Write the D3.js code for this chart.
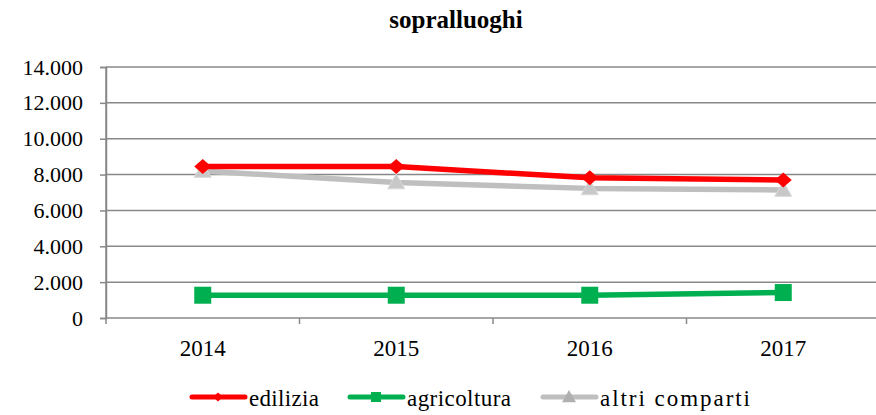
<!DOCTYPE html>
<html>
<head>
<meta charset="utf-8">
<script src="https://cdn.jsdelivr.net/npm/d3@7"></script>
<style>
  body { margin: 0; background: #fff; }
</style>
</head>
<body>
<div id="chart"></div>
<script>
// chart data
const years = ["2014", "2015", "2016", "2017"];
const edilizia = [8450, 8450, 7820, 7700];
const agricoltura = [1270, 1270, 1270, 1420];
const altriComparti = [8200, 7560, 7230, 7140];
const yTicks = [0, 2000, 4000, 6000, 8000, 10000, 12000, 14000];

const series = [
    { name: "edilizia", values: edilizia, color: "#ff0000", marker: "diamond" },
    { name: "agricoltura", values: agricoltura, color: "#00b050", marker: "square" },
    { name: "altri comparti", values: altriComparti, color: "#bfbfbf", marker: "triangle" }
];

const W = 876, H = 415;
const margin = { top: 67, right: -4, bottom: 97, left: 106 };
const width = W - margin.left - margin.right;
const height = H - margin.top - margin.bottom;
const FONT = "Liberation Serif";
const GRID = "#888888";

const svg = d3.select("#chart").append("svg")
    .attr("width", W)
    .attr("height", H)
    .attr("font-family", FONT);

svg.append("text")
    .attr("x", 456)
    .attr("y", 28)
    .attr("text-anchor", "middle")
    .attr("font-weight", "bold")
    .attr("font-size", 25)
    .attr("font-family", FONT)
    .text("sopralluoghi");

const g = svg.append("g")
    .attr("transform", `translate(${margin.left},${margin.top})`);

const x = d3.scaleBand().domain(years).range([0, width]);
const y = d3.scaleLinear().domain([0, 14000]).range([height, 0]);

// gridlines
g.selectAll(".grid")
    .data(yTicks)
    .enter()
    .append("line")
    .attr("x1", 0)
    .attr("x2", width)
    .attr("y1", d => y(d))
    .attr("y2", d => y(d))
    .attr("stroke", GRID)
    .attr("stroke-width", 1.5);

const fmt = d => d3.format(",")(d).replace(/,/g, ".");

const yAxis = g.append("g")
    .call(d3.axisLeft(y).tickValues(yTicks).tickFormat(fmt).tickSize(6).tickPadding(17))
    .attr("font-family", FONT)
    .attr("font-size", 22);
yAxis.select(".domain").attr("stroke", GRID).attr("stroke-width", 1.5);
yAxis.selectAll(".tick line").attr("stroke", GRID).attr("stroke-width", 1.5);
yAxis.selectAll("text").attr("fill", "#000");

const xTickPos = d3.range(years.length + 1).map(i => i * x.bandwidth());
const xAxis = g.append("g").attr("transform", `translate(0,${height})`);
xAxis.selectAll("line.tk")
    .data(xTickPos)
    .enter()
    .append("line")
    .attr("x1", d => d).attr("x2", d => d)
    .attr("y1", 0).attr("y2", 6)
    .attr("stroke", GRID).attr("stroke-width", 1.5);
xAxis.selectAll("text")
    .data(years)
    .enter()
    .append("text")
    .attr("x", d => x(d) + x.bandwidth() / 2)
    .attr("y", 38)
    .attr("text-anchor", "middle")
    .attr("font-size", 23)
    .attr("font-family", FONT)
    .text(d => d);

// y axis line on top of gridline
g.append("line")
    .attr("x1", 0).attr("x2", 0)
    .attr("y1", 0).attr("y2", height)
    .attr("stroke", GRID).attr("stroke-width", 1.5);

function markerPath(type, s) {
    if (type === "diamond") return `M0,${-s * 0.88}L${s},0L0,${s * 0.88}L${-s},0Z`;
    if (type === "square") return `M${-s},${-s}H${s}V${s}H${-s}Z`;
    return `M0,${-s}L${s},${s * 0.75}H${-s}Z`;
}
const markerSize = { diamond: 8.5, square: 8.5, triangle: 8.5 };

const line = d3.line()
    .x((d, i) => x(years[i]) + x.bandwidth() / 2)
    .y(d => y(d));

// draw in reverse so edilizia is on top
series.slice().reverse().forEach(s => {
    g.append("path")
        .datum(s.values)
        .attr("fill", "none")
        .attr("stroke", s.color)
        .attr("stroke-width", 5.5)
        .attr("stroke-linejoin", "round")
        .attr("d", line);
    g.selectAll(null)
        .data(s.values)
        .enter()
        .append("path")
        .attr("transform", (d, i) => `translate(${x(years[i]) + x.bandwidth() / 2},${y(d)})`)
        .attr("d", markerPath(s.marker, markerSize[s.marker]))
        .attr("fill", s.marker === "triangle" ? "#c8c8c8" : s.color)
        .attr("stroke", s.marker === "triangle" ? "#dadada" : "none")
        .attr("stroke-width", 1);
});

// legend
const legendX = [190, 348, 541];
const legendW = [70, 104, 150];
const legend = svg.append("g").attr("transform", "translate(0,397)");
series.forEach((s, i) => {
    const lg = legend.append("g").attr("transform", `translate(${legendX[i]},0)`);
    lg.append("line")
        .attr("x1", 2).attr("x2", 55)
        .attr("stroke", s.color)
        .attr("stroke-width", 5)
        .attr("stroke-linecap", "round");
    lg.append("path")
        .attr("transform", "translate(28,0)")
        .attr("d", markerPath(s.marker, s.marker === "triangle" ? 7 : 5))
        .attr("fill", s.marker === "triangle" ? "#b0b0b0" : s.color);
    lg.append("text")
        .attr("x", 59)
        .attr("y", 9)
        .attr("font-size", 23)
        .attr("font-family", FONT)
        .attr("textLength", legendW[i])
        .attr("lengthAdjust", "spacing")
        .text(s.name);
});
</script>
</body>
</html>
